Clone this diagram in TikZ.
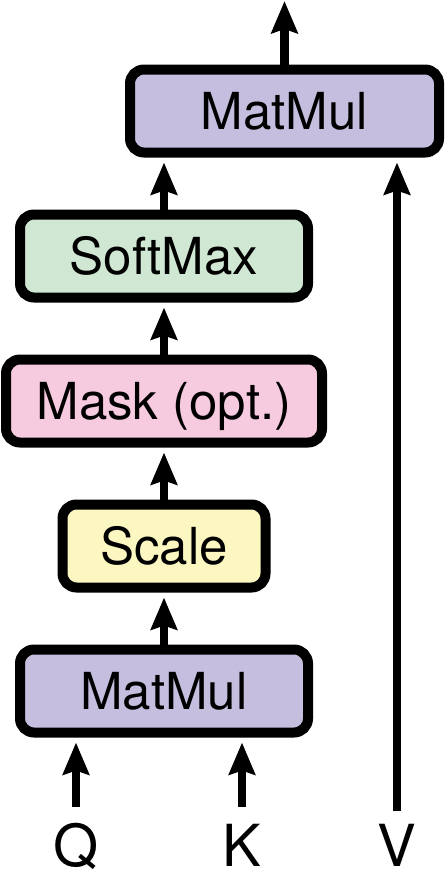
\documentclass[tikz,border=0pt]{standalone}
\usepackage{fontspec}
\setmainfont{TeX Gyre Heros}
\usetikzlibrary{positioning, arrows.meta}
\definecolor{mmpurple}{RGB}{198,190,223}
\definecolor{softgreen}{RGB}{208,232,211}
\definecolor{maskpink}{RGB}{247,203,223}
\definecolor{scaleyellow}{RGB}{252,246,192}

\begin{document}
\begin{tikzpicture}[
		x=1pt, y=-1pt,
		->,
		>={Stealth[length=32pt, width=26pt, inset=4pt]},
		line width=8.5pt,
		shorten >=5pt,
		node distance=145pt,
		block/.style={draw, line width=10pt, rounded corners=14pt, minimum height=83pt,
			text height=36.6pt, text depth=0pt, font=\fontsize{51}{60}\selectfont},
		letter/.style={font=\fontsize{58}{66}\selectfont, anchor=base, inner sep=0pt}]

	\useasboundingbox (0,0) rectangle (445,884);

	\node[block, fill=mmpurple, minimum width=288pt] (matmul_low) at (164,691) {MatMul};
	\node[block, fill=scaleyellow, minimum width=203pt, above of=matmul_low] (scale) {Scale};
	\node[block, fill=maskpink, minimum width=316pt, above of=scale] (mask) {Mask (opt.)};
	\node[block, fill=softgreen, minimum width=288pt, above of=mask] (softmax) {SoftMax};
	\node[block, fill=mmpurple, minimum width=309pt, above of=softmax, xshift=120.5pt] (matmul_top) {MatMul};

	\node[letter] (q) at (76,866) {Q};
	\node[letter] (k) at (242,866) {K};
	\node[letter] (v) at (397,866) {V};

	\coordinate (q_in) at (76,807);
	\coordinate (k_in) at (242,807);
	\coordinate (v_in) at (397,811);
	\coordinate (out) at (284.5,1);

	\draw	(q_in) -- (q_in |- matmul_low.south);
	\draw	(k_in) -- (k_in |- matmul_low.south);

	\draw	(matmul_low) edge (scale)
			(scale) edge (mask)
			(mask) edge (softmax);

	\draw	(softmax.north) -- (softmax.north |- matmul_top.south);
	\draw	(v_in) -- (v_in |- matmul_top.south);
	\draw[shorten >=0pt] (matmul_top) -- (out);

\end{tikzpicture}
\end{document}
